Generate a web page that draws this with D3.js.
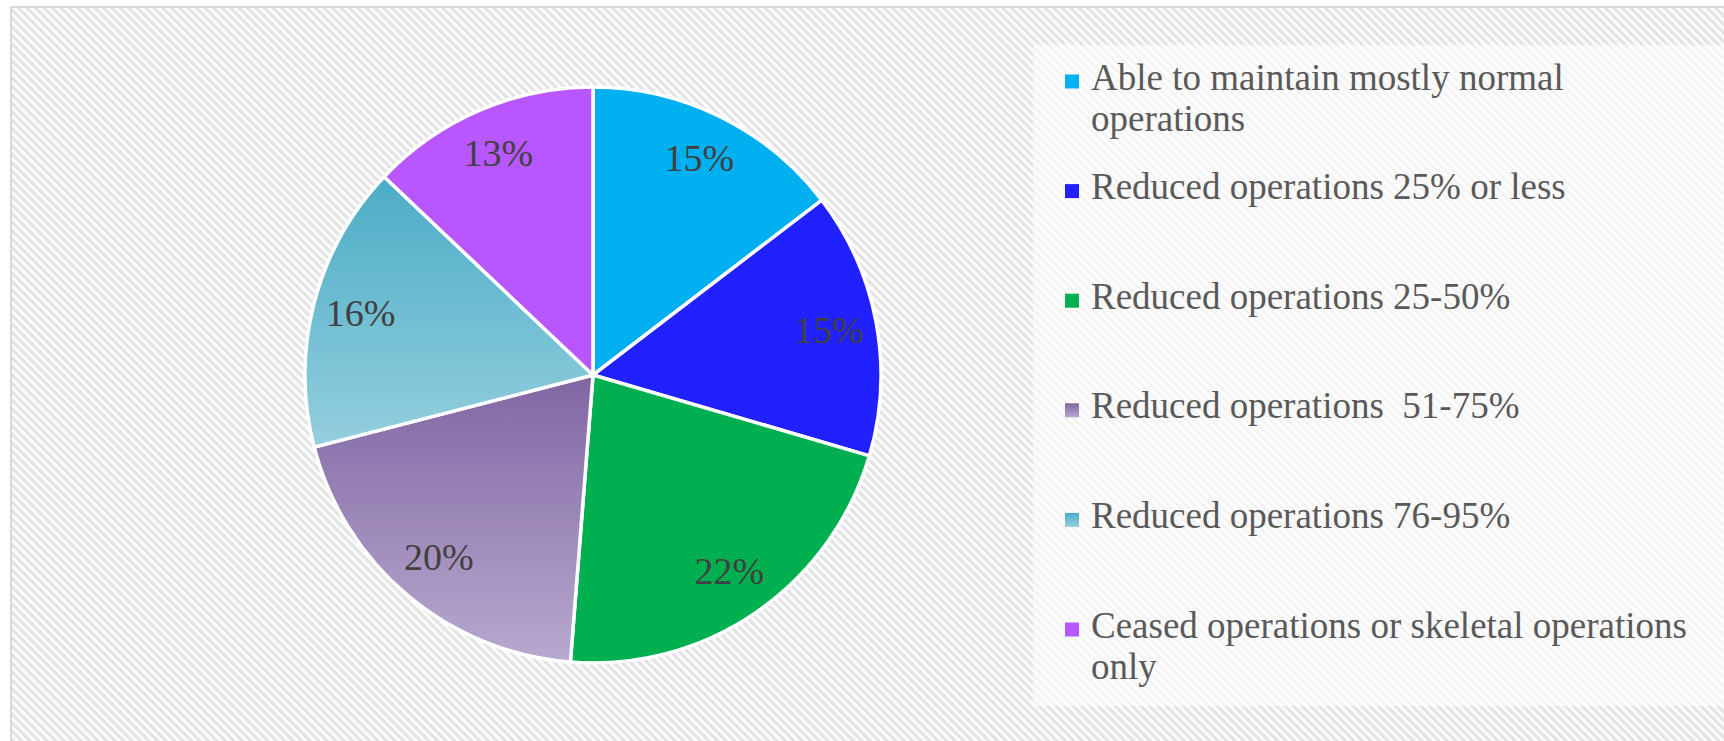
<html lang="en">
<head>
<meta charset="utf-8">
<title>Operations status</title>
<style>
    body { margin: 0; background: white; }
    svg { display: block; }
    text { font-family: "Palatino Linotype", "Book Antiqua", Palatino, "Liberation Serif", serif; }
    .slice { stroke: white; stroke-width: 3.5; }
    .pct { fill: #404040; font-size: 38px; }
    .legend-text { fill: #595959; font-size: 37px; white-space: pre; }
</style>
</head>
<body>
<div id="chart"></div>
<script src="https://cdnjs.cloudflare.com/ajax/libs/d3/7.8.5/d3.min.js"></script>
<script>
    // values (share of respondents, %)
    var categories = ["Able to maintain mostly normal operations",
                      "Reduced operations 25% or less",
                      "Reduced operations 25-50%",
                      "Reduced operations  51-75%",
                      "Reduced operations 76-95%",
                      "Ceased operations or skeletal operations only"];
    var shares = [14.6, 14.9, 21.7, 19.7, 16.1, 12.9];
    var fills = ["#00B0F0", "#2121FF", "#00B050", "url(#grad-lilac)", "url(#grad-teal)", "#B856FF"];

    var width = 1724, height = 741;
    var cx = 593, cy = 375, radius = 288;

    var svg = d3.select("#chart").append("svg")
        .attr("width", width)
        .attr("height", height);

    var defs = svg.append("defs");

    // diagonal stripe background
    var pattern = defs.append("pattern")
        .attr("id", "stripes")
        .attr("patternUnits", "userSpaceOnUse")
        .attr("width", 6)
        .attr("height", 6)
        .attr("patternTransform", "rotate(-45)");
    pattern.append("rect").attr("width", 6).attr("height", 6).attr("fill", "#fbfbfb");
    pattern.append("rect").attr("width", 3).attr("height", 6).attr("fill", "#e3e3e3");

    function gradient(id, top, bottom) {
        var g = defs.append("linearGradient")
            .attr("id", id)
            .attr("x1", 0).attr("y1", 0).attr("x2", 0).attr("y2", 1);
        g.append("stop").attr("offset", "0%").attr("stop-color", top);
        g.append("stop").attr("offset", "100%").attr("stop-color", bottom);
    }
    gradient("grad-lilac", "#8066A3", "#B8A9CF");
    gradient("grad-teal", "#4BACC6", "#94CFDE");

    svg.append("rect")
        .attr("x", 11).attr("y", 7)
        .attr("width", width).attr("height", height)
        .attr("fill", "url(#stripes)")
        .attr("stroke", "#d9d9d9")
        .attr("stroke-width", 2);

    // legend panel
    svg.append("rect")
        .attr("x", 1033).attr("y", 45)
        .attr("width", width - 1033).attr("height", 661)
        .attr("fill", "white")
        .attr("fill-opacity", 0.6);

    var total = d3.sum(shares);

    var pie = d3.pie().sort(null).value(function(d) { return d; });
    var arc = d3.arc().innerRadius(0).outerRadius(radius);
    var labelArc = d3.arc().innerRadius(240).outerRadius(240);

    var g = svg.append("g").attr("transform", "translate(" + cx + "," + cy + ")");

    var arcs = pie(shares);

    g.selectAll(".slice")
        .data(arcs)
        .enter().append("path")
        .attr("class", "slice")
        .attr("d", arc)
        .attr("fill", function(d, i) { return fills[i]; });

    g.selectAll(".pct")
        .data(arcs)
        .enter().append("text")
        .attr("class", "pct")
        .attr("text-anchor", "middle")
        .attr("dy", "0.3em")
        .attr("transform", function(d) { return "translate(" + labelArc.centroid(d) + ")"; })
        .text(function(d) { return Math.round(d.value / total * 100) + "%"; });

    // legend
    var legendX = 1065, textX = 1091, firstBase = 89.5, step = 109.6, lineH = 41.4, maxW = 615;

    var legend = svg.append("g");
    categories.forEach(function(name, i) {
        var base = firstBase + i * step;
        legend.append("rect")
            .attr("x", legendX).attr("y", base - 15)
            .attr("width", 14).attr("height", 14)
            .attr("fill", fills[i]);

        var t = legend.append("text")
            .attr("class", "legend-text")
            .attr("x", textX).attr("y", base);

        // wrap words into lines no wider than maxW
        var words = name.split(" ");
        var lines = [], line = "";
        var probe = legend.append("text").attr("class", "legend-text");
        words.forEach(function(w) {
            var trial = line === "" ? w : line + " " + w;
            probe.text(trial);
            if (probe.node().getComputedTextLength() > maxW && line !== "") {
                lines.push(line);
                line = w;
            } else {
                line = trial;
            }
        });
        lines.push(line);
        probe.remove();

        lines.forEach(function(l, k) {
            t.append("tspan")
                .attr("x", textX)
                .attr("y", base + k * lineH)
                .text(l);
        });
    });
</script>
</body>
</html>
